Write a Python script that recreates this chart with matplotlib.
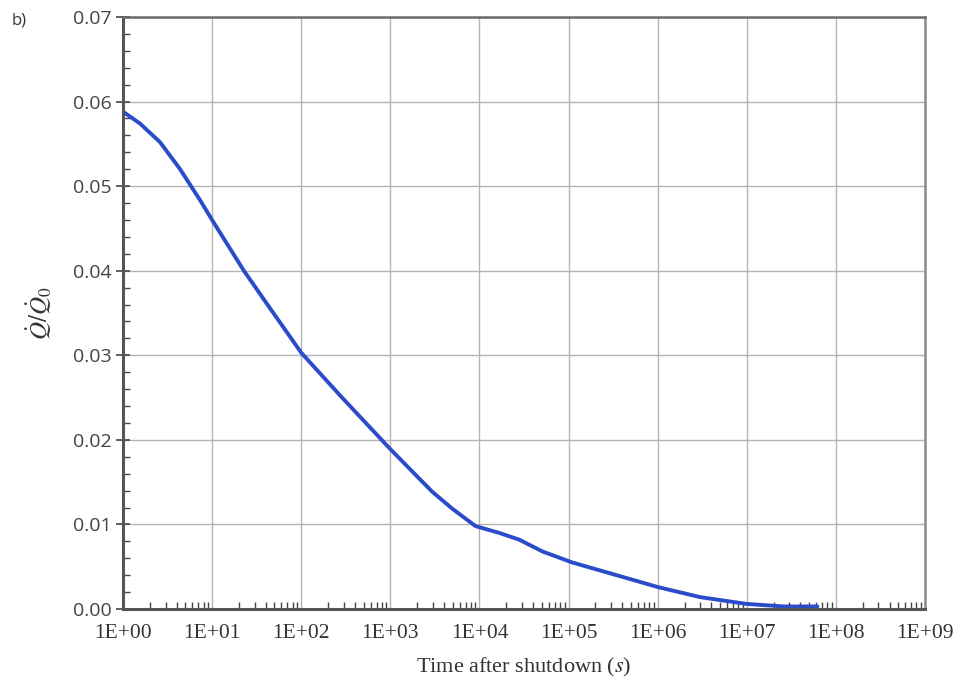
import numpy as np
import matplotlib
matplotlib.use("Agg")
import matplotlib.pyplot as plt
from matplotlib.ticker import LogLocator, MultipleLocator, NullFormatter

# values
t = [1, 1.55, 2.6, 4.37, 7.36, 10.4, 22.7, 41.7, 100, 281, 1000, 2924, 4900,
     9030, 1.66e4, 2.79e4, 5.1e4, 1.1e5, 3.45e5, 1.0e6, 3.0e6, 1.0e7, 2.6e7, 6.2e7]
q = [0.0588, 0.0574, 0.0552, 0.0520, 0.0483, 0.0457, 0.0400, 0.0360, 0.0303,
     0.0251, 0.0189, 0.0139, 0.0119, 0.0098, 0.0090, 0.0082, 0.0068, 0.0055,
     0.0040, 0.0026, 0.0014, 0.0006, 0.0003, 0.0003]

xticks = [10.0**k for k in range(10)]
xlabels = ["1E+%02d" % k for k in range(10)]
yticks = [0.00, 0.01, 0.02, 0.03, 0.04, 0.05, 0.06, 0.07]

plt.rcParams['mathtext.fontset'] = 'stix'

fig = plt.figure(figsize=(9.56, 6.9), dpi=100)
ax = fig.add_axes([0.1287, 0.1174, 0.8389, 0.858])

ax.plot(t, q, color='#2b4cc9', lw=2.8, solid_capstyle='round', solid_joinstyle='round')

ax.set_xscale('log')
ax.set_xlim(1, 1e9)
ax.set_ylim(0, 0.07)
ax.set_xticks(xticks)
ax.set_xticklabels(xlabels, fontfamily='Liberation Serif', fontsize=15.5, color='#333333')
ax.xaxis.set_minor_locator(LogLocator(base=10, subs=np.arange(2, 10), numticks=20))
ax.xaxis.set_minor_formatter(NullFormatter())
ax.set_yticks(yticks)
ax.set_yticklabels(["%.2f" % v for v in yticks], fontfamily='Open Sans', fontsize=14, color='#444444')
ax.yaxis.set_minor_locator(MultipleLocator(0.002))

ax.grid(True, which='major', color='#b4b4b4', lw=1.0)
ax.tick_params(axis='x', which='major', direction='in', length=0, pad=11)
ax.tick_params(axis='x', which='minor', direction='in', length=5, width=1, color='#444444')
ax.tick_params(axis='y', which='major', direction='inout', length=10, width=1.2, color='#444444', pad=3)
ax.tick_params(axis='y', which='minor', direction='in', length=5, width=1, color='#444444')

for s in ['left', 'bottom']:
    ax.spines[s].set_linewidth(2.2)
    ax.spines[s].set_color('#555555')
ax.spines['top'].set_linewidth(1.8)
ax.spines['top'].set_color('#6a6a6a')
ax.spines['right'].set_linewidth(1.8)
ax.spines['right'].set_color('#8a8a8a')

ax.set_xlabel('Time after shutdown ($\\it{s}$)', fontfamily='Liberation Serif', fontsize=16,
              labelpad=9, color='#333333')
ax.set_ylabel(r'$\dot{Q}/\dot{Q}_0$', fontsize=18, labelpad=14, color='#333333')

fig.text(0.012, 0.965, 'b)', fontsize=12, fontfamily='Open Sans', color='#333333')

fig.savefig('out.png', dpi=100, facecolor='white')
